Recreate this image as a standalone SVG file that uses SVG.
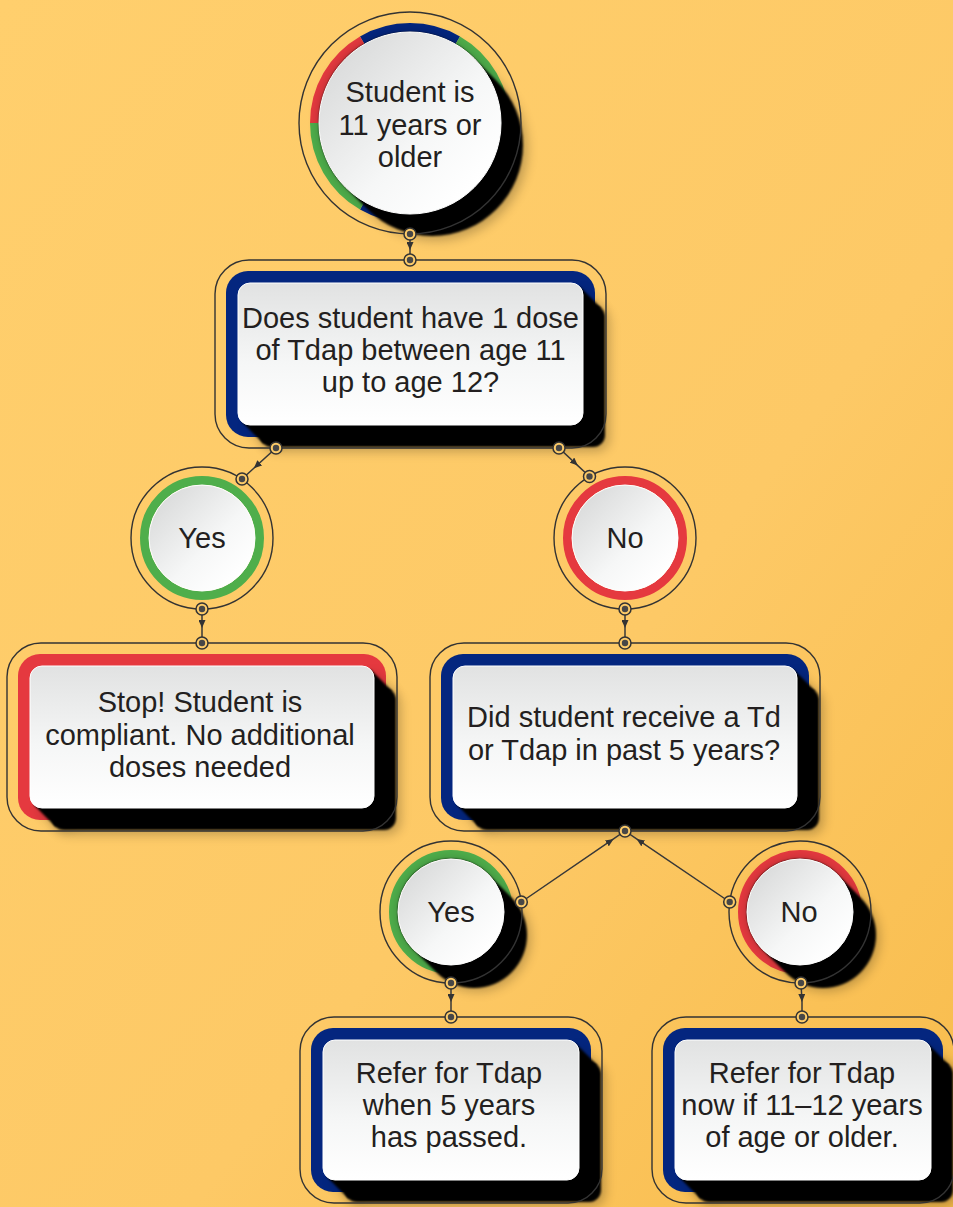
<svg xmlns="http://www.w3.org/2000/svg" xmlns:xlink="http://www.w3.org/1999/xlink" width="953" height="1207" viewBox="0 0 953 1207">
<defs>
<linearGradient id="bg" x1="0" y1="0" x2="1" y2="1"><stop offset="0" stop-color="#FFCF6D"/><stop offset="0.6" stop-color="#FDC966"/><stop offset="1" stop-color="#F8BC4C"/></linearGradient>
<linearGradient id="wbox" x1="0" y1="0" x2="0" y2="1"><stop offset="0" stop-color="#E1E2E2"/><stop offset="0.55" stop-color="#F5F6F6"/><stop offset="1" stop-color="#FFFFFF"/></linearGradient>
<linearGradient id="wcirc" x1="0.15" y1="0.15" x2="0.85" y2="0.85"><stop offset="0" stop-color="#DCDDDD"/><stop offset="0.6" stop-color="#F6F7F7"/><stop offset="1" stop-color="#FFFFFF"/></linearGradient>
<filter id="blur" filterUnits="userSpaceOnUse" x="-50" y="-50" width="1053" height="1307"><feGaussianBlur stdDeviation="6"/></filter>
<filter id="soft" filterUnits="userSpaceOnUse" x="-50" y="-50" width="1053" height="1307"><feGaussianBlur stdDeviation="1"/></filter>
<marker id="arr" markerUnits="userSpaceOnUse" markerWidth="9" markerHeight="7" refX="8" refY="3.5" orient="auto"><path d="M0,0 L8,3.5 L0,7 Z" fill="#333"/></marker>
<g id="dot"><circle r="6" fill="#FDCB68" stroke="#333" stroke-width="1.5"/><circle r="3.2" fill="#474747"/></g>
<style>
.outline{fill:none;stroke:#333;stroke-width:1.4}
.conn{fill:none;stroke:#383838;stroke-width:1.5;marker-mid:url(#arr)}
.t{font-family:"Liberation Sans",Arial,sans-serif;font-size:29px;fill:#231F20;text-anchor:middle}
.wb{fill:url(#wbox);stroke:#ffffff;stroke-width:1}
.wc{fill:url(#wcirc);stroke:#ffffff;stroke-width:1}
.blue{fill:#04267F}
.red{fill:#E5393F}
.green{fill:#4FAE4B}
.ring{fill:none;stroke-width:9}
.sh{fill:#000;filter:url(#soft)}
.shs{fill:#000;opacity:0.25;filter:url(#blur)}
.csh{stroke:#000;stroke-linecap:round;filter:url(#soft)}
.cshs{stroke:#000;stroke-linecap:round;opacity:0.25;filter:url(#blur)}
</style>
</defs>

<rect width="953" height="1207" fill="url(#bg)"/>

<g id="node-start">
  <path class="ring" stroke="#04267F" d="M362.25,40.3 A95.5,95.5 0 0 1 457.75,40.3"/>
  <path class="ring" stroke="#4FAE4B" d="M457.75,40.3 A95.5,95.5 0 0 1 505.5,123"/>
  <path class="ring" stroke="#E5393F" d="M505.5,123 A95.5,95.5 0 0 1 457.75,205.7"/>
  <path class="ring" stroke="#04267F" d="M457.75,205.7 A95.5,95.5 0 0 1 362.25,205.7"/>
  <path class="ring" stroke="#4FAE4B" d="M362.25,205.7 A95.5,95.5 0 0 1 314.5,123"/>
  <path class="ring" stroke="#E5393F" d="M314.5,123 A95.5,95.5 0 0 1 362.25,40.3"/>
  <line class="cshs" x1="410" y1="123" x2="436" y2="149" stroke-width="182"/>
  <line class="csh" x1="410" y1="123" x2="432" y2="145" stroke-width="182"/>
  <circle class="outline" cx="410" cy="123" r="111"/>
  <circle class="wc" cx="410" cy="123" r="91"/>
  <text class="t" x="410" y="102">Student is</text>
  <text class="t" x="410" y="135">11 years or</text>
  <text class="t" x="410" y="167">older</text>
</g>

<g id="node-q1">
  <rect class="blue" x="226" y="271" width="369" height="166" rx="22"/>
  <path class="shs" d="M583.5,290.5 L605.5,312.5 L267.5,447.5 L245.5,425.5 Z"/>
  <rect class="shs" x="264" y="309" width="345" height="142" rx="12"/>
  <path class="sh" d="M579.5,286.5 L601.5,308.5 L263.5,443.5 L241.5,421.5 Z"/>
  <rect class="sh" x="260" y="305" width="345" height="142" rx="12"/>
  <rect class="outline" x="215" y="260" width="391" height="188" rx="34"/>
  <rect class="wb" x="238" y="283" width="345" height="142" rx="12"/>
  <text class="t" x="410.5" y="328">Does student have 1 dose</text>
  <text class="t" x="410.5" y="360">of Tdap between age 11</text>
  <text class="t" x="410.5" y="392">up to age 12?</text>
</g>

<g id="node-yes1">
  <circle cx="202" cy="538" r="57.5" fill="none" stroke="#4FAE4B" stroke-width="9"/>
  <circle class="outline" cx="202" cy="538" r="71"/>
  <circle class="wc" cx="202" cy="538" r="53"/>
  <text class="t" x="202" y="548">Yes</text>
</g>

<g id="node-no1">
  <circle cx="625" cy="538" r="57.5" fill="none" stroke="#E5393F" stroke-width="9"/>
  <circle class="outline" cx="625" cy="538" r="71"/>
  <circle class="wc" cx="625" cy="538" r="53"/>
  <text class="t" x="625" y="548">No</text>
</g>

<g id="node-stop">
  <rect class="red" x="18" y="654" width="368" height="166" rx="22"/>
  <path class="shs" d="M374.5,673.5 L396.5,695.5 L59.5,830.5 L37.5,808.5 Z"/>
  <rect class="shs" x="56" y="692" width="344" height="142" rx="12"/>
  <path class="sh" d="M370.5,669.5 L392.5,691.5 L55.5,826.5 L33.5,804.5 Z"/>
  <rect class="sh" x="52" y="688" width="344" height="142" rx="12"/>
  <rect class="outline" x="7" y="643" width="390" height="188" rx="34"/>
  <rect class="wb" x="30" y="666" width="344" height="142" rx="12"/>
  <text class="t" x="200" y="712">Stop! Student is</text>
  <text class="t" x="200" y="745">compliant. No additional</text>
  <text class="t" x="200" y="777">doses needed</text>
</g>

<g id="node-q2">
  <rect class="blue" x="441" y="654" width="368" height="166" rx="22"/>
  <path class="shs" d="M797.5,673.5 L819.5,695.5 L482.5,830.5 L460.5,808.5 Z"/>
  <rect class="shs" x="479" y="692" width="344" height="142" rx="12"/>
  <path class="sh" d="M793.5,669.5 L815.5,691.5 L478.5,826.5 L456.5,804.5 Z"/>
  <rect class="sh" x="475" y="688" width="344" height="142" rx="12"/>
  <rect class="outline" x="430" y="643" width="390" height="188" rx="34"/>
  <rect class="wb" x="453" y="666" width="344" height="142" rx="12"/>
  <text class="t" x="624" y="727">Did student receive a Td</text>
  <text class="t" x="624" y="760">or Tdap in past 5 years?</text>
</g>

<g id="node-yes2">
  <circle cx="451" cy="912" r="57.5" fill="none" stroke="#4FAE4B" stroke-width="9"/>
  <line class="cshs" x1="451" y1="912" x2="477" y2="938" stroke-width="106"/>
  <line class="csh" x1="451" y1="912" x2="474" y2="935" stroke-width="106"/>
  <circle class="outline" cx="451" cy="912" r="71"/>
  <circle class="wc" cx="451" cy="912" r="53"/>
  <text class="t" x="451" y="922">Yes</text>
</g>

<g id="node-no2">
  <circle cx="800" cy="912" r="57.5" fill="none" stroke="#E5393F" stroke-width="9"/>
  <line class="cshs" x1="800" y1="912" x2="826" y2="938" stroke-width="106"/>
  <line class="csh" x1="800" y1="912" x2="823" y2="935" stroke-width="106"/>
  <circle class="outline" cx="800" cy="912" r="71"/>
  <circle class="wc" cx="800" cy="912" r="53"/>
  <text class="t" x="799" y="922">No</text>
</g>

<g id="node-refer1">
  <rect class="blue" x="311" y="1028" width="280" height="164" rx="22"/>
  <path class="shs" d="M579.5,1047.5 L601.5,1069.5 L352.5,1202.5 L330.5,1180.5 Z"/>
  <rect class="shs" x="349" y="1066" width="256" height="140" rx="12"/>
  <path class="sh" d="M575.5,1043.5 L597.5,1065.5 L348.5,1198.5 L326.5,1176.5 Z"/>
  <rect class="sh" x="345" y="1062" width="256" height="140" rx="12"/>
  <rect class="outline" x="300" y="1017" width="302" height="186" rx="34"/>
  <rect class="wb" x="323" y="1040" width="256" height="140" rx="12"/>
  <text class="t" x="449" y="1083">Refer for Tdap</text>
  <text class="t" x="449" y="1115">when 5 years</text>
  <text class="t" x="449" y="1147">has passed.</text>
</g>

<g id="node-refer2">
  <rect class="blue" x="663" y="1028" width="280" height="164" rx="22"/>
  <path class="shs" d="M931.5,1047.5 L953.5,1069.5 L704.5,1202.5 L682.5,1180.5 Z"/>
  <rect class="shs" x="701" y="1066" width="256" height="140" rx="12"/>
  <path class="sh" d="M927.5,1043.5 L949.5,1065.5 L700.5,1198.5 L678.5,1176.5 Z"/>
  <rect class="sh" x="697" y="1062" width="256" height="140" rx="12"/>
  <rect class="outline" x="652" y="1017" width="302" height="186" rx="34"/>
  <rect class="wb" x="675" y="1040" width="256" height="140" rx="12"/>
  <text class="t" x="802" y="1083">Refer for Tdap</text>
  <text class="t" x="802" y="1115">now if 11–12 years</text>
  <text class="t" x="802" y="1147">of age or older.</text>
</g>

<g id="connectors">
  <path class="conn" d="M410,234 L410,250 L410,260"/>
  <path class="conn" d="M276,448 L253.8,468.2 L242,479"/>
  <path class="conn" d="M559,448 L577.8,465.6 L589.5,476.5"/>
  <path class="conn" d="M202,609 L202,628 L202,643"/>
  <path class="conn" d="M625,609 L625,628 L625,643"/>
  <path class="conn" d="M521.3,902 L613.5,838.9 L625,831"/>
  <path class="conn" d="M729.7,902 L636.6,838.9 L625,831"/>
  <path class="conn" d="M451,983 L451,1002 L451,1017"/>
  <path class="conn" d="M801,983 L802,1002 L802,1017"/>
  <use xlink:href="#dot" x="410" y="234"/>
  <use xlink:href="#dot" x="410" y="260"/>
  <use xlink:href="#dot" x="276" y="448"/>
  <use xlink:href="#dot" x="559" y="448"/>
  <use xlink:href="#dot" x="242" y="479"/>
  <use xlink:href="#dot" x="589.5" y="476.5"/>
  <use xlink:href="#dot" x="202" y="609"/>
  <use xlink:href="#dot" x="202" y="643"/>
  <use xlink:href="#dot" x="625" y="609"/>
  <use xlink:href="#dot" x="625" y="643"/>
  <use xlink:href="#dot" x="625" y="831"/>
  <use xlink:href="#dot" x="521.3" y="902"/>
  <use xlink:href="#dot" x="729.7" y="902"/>
  <use xlink:href="#dot" x="451" y="983"/>
  <use xlink:href="#dot" x="801" y="983"/>
  <use xlink:href="#dot" x="451" y="1017"/>
  <use xlink:href="#dot" x="802" y="1017"/>
</g>
</svg>
